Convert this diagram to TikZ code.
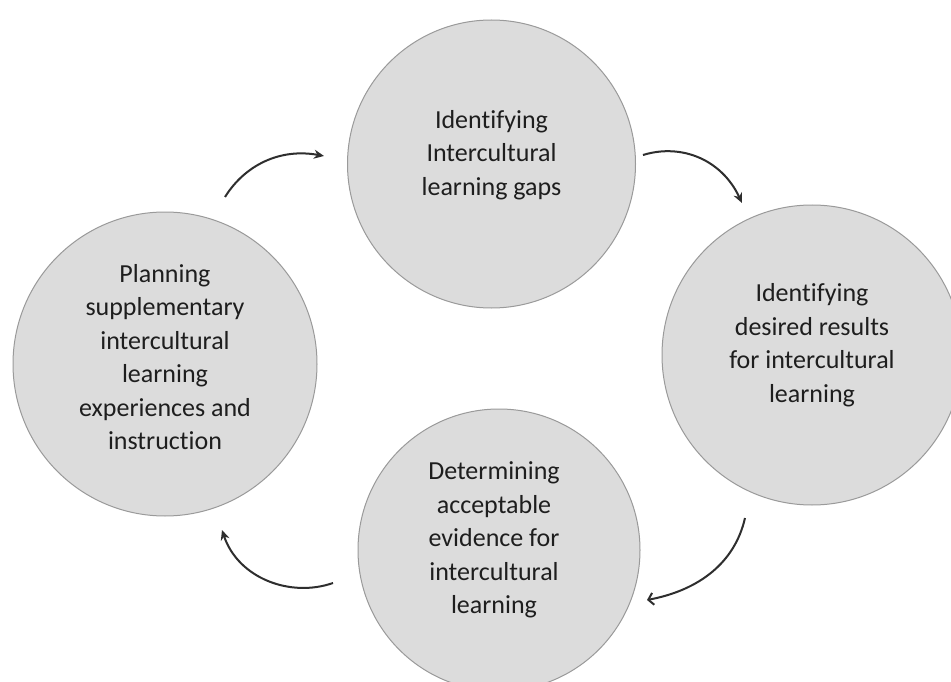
\documentclass[tikz,border=0pt]{standalone}
\usepackage{fontspec}
\setmainfont{Carlito}[Ligatures={NoCommon}]
\usetikzlibrary{arrows.meta}
\definecolor{bubblefill}{HTML}{DCDCDC}
\definecolor{bubbleline}{HTML}{9A9A9A}
\definecolor{txtcol}{HTML}{1E1E1E}
\definecolor{arrowcol}{HTML}{2E2E2E}
\tikzset{
  bubble/.style={circle, fill=bubblefill, draw=bubbleline, line width=1pt, inner sep=0pt},
  txt/.style={align=center, text=txtcol, font=\fontsize{26}{33.5}\selectfont, inner sep=0pt},
  cyc/.style={draw=arrowcol, line width=2pt, -{Stealth[length=10pt,width=9pt]}},
  cycbarb/.style={draw=arrowcol, line width=2pt, -{Straight Barb[length=5pt,width=12pt]}}
}
\begin{document}
\begin{tikzpicture}[x=1pt,y=-1pt]
\useasboundingbox (0,0) rectangle (951,682);
\clip (0,0) rectangle (951,682);
\fill[white] (0,0) rectangle (951,682);
% circles
\node[bubble, minimum size=288pt] (top) at (491.5,164) {};
\node[bubble, minimum size=300pt] (right) at (812,355) {};
\node[bubble, minimum size=282pt] (bottom) at (499,550) {};
\node[bubble, minimum size=304pt] (left) at (165,364) {};
% texts
\node[txt] (toptext) at (491.5,155) {Identifying\\Intercultural\\learning gaps};
\node[txt] (righttext) at (812,345) {Identifying\\desired results\\for intercultural\\learning};
\node[txt] (bottomtext) at (494,540) {Determining\\acceptable\\evidence for\\intercultural\\learning};
\node[txt] (lefttext) at (165,357) {Planning\\supplementary\\intercultural\\learning\\experiences and\\instruction};
% arrow end points
\coordinate (a1s) at (225,197);
\coordinate (a1e) at (324,156);
\coordinate (a2s) at (643,155);
\coordinate (a2e) at (742,203);
\coordinate (a3s) at (745,518);
\coordinate (a3e) at (647,600);
\coordinate (a4s) at (333,583);
\coordinate (a4e) at (222,530);
% arrows
\draw[cyc] (a1s) .. controls (245,165) and (280,148) .. (a1e);
\draw[cyc] (a2s) .. controls (682,143) and (722,160) .. (a2e);
\draw[cycbarb] (a3s) .. controls (735,562) and (700,590) .. (a3e);
\draw[cyc] (a4s) .. controls (290,598) and (238,578) .. (a4e);
\end{tikzpicture}
\end{document}
